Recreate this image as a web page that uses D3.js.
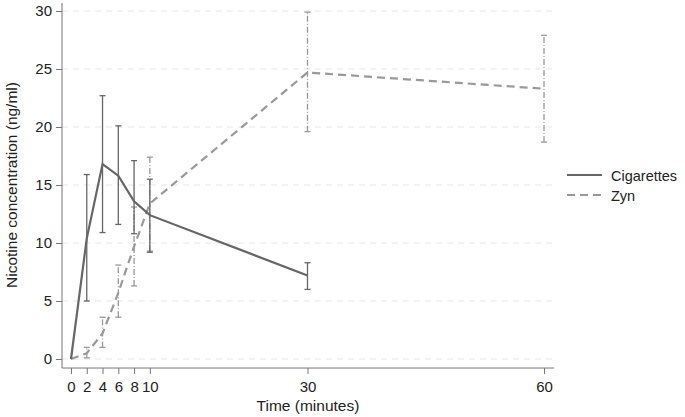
<!DOCTYPE html>
<html lang="en">
<head>
<meta charset="UTF-8">
<script src="https://d3js.org/d3.v7.min.js"></script>
<style>
    body { margin: 0; background: #fff; }
    svg { font-family: "Liberation Sans", Arial, sans-serif; }
    .grid line { stroke: #e6e6e6; stroke-dasharray: 6,5; }
    .axis path, .axis line { stroke: #777; }
    .axis text { fill: #222; font-size: 15px; }
</style>
</head>
<body>
<svg width="685" height="417"></svg>
<script>
    // time points (minutes)
    const xTicks = [0, 2, 4, 6, 8, 10, 30, 60];
    const yTicks = [0, 5, 10, 15, 20, 25, 30];

    // Cigarettes: mean, lower, upper
    const cigTimes = [0, 2, 4, 6, 8, 10, 30];
    const cigMean  = [0, 10.4, 16.8, 15.8, 13.6, 12.4, 7.2];
    const cigLow   = [null, 5.0, 10.9, 11.6, 10.8, 9.2, 6.0];
    const cigHigh  = [null, 15.9, 22.7, 20.1, 17.1, 15.5, 8.3];

    // Zyn: mean, lower, upper
    const zynTimes = [0, 2, 4, 6, 8, 10, 30, 60];
    const zynMean  = [0, 0.5, 2.2, 5.7, 9.7, 13.4, 24.7, 23.3];
    const zynLow   = [null, 0.1, 1.0, 3.6, 6.3, 9.3, 19.6, 18.7];
    const zynHigh  = [null, 1.0, 3.6, 8.1, 13.1, 17.4, 29.9, 27.9];

    const svg = d3.select("svg");
    const x = d3.scaleLinear().domain([0, 60]).range([71, 544]);
    const y = d3.scaleLinear().domain([0, 30]).range([359, 11]);
    const plotLeft = 62, plotRight = 554, plotBottom = 368, plotTop = 3;

    // gridlines
    svg.append("g").attr("class", "grid")
        .selectAll("line").data(yTicks).enter().append("line")
        .attr("x1", plotLeft).attr("x2", plotRight)
        .attr("y1", d => y(d)).attr("y2", d => y(d));

    // axes
    const yAxis = svg.append("g").attr("class", "axis")
        .attr("transform", "translate(" + plotLeft + ",0)")
        .call(d3.axisLeft(y).tickValues(yTicks).tickSize(6).tickPadding(4));
    yAxis.select(".domain").attr("d", "M0," + plotBottom + "V" + plotTop);

    const xAxis = svg.append("g").attr("class", "axis")
        .attr("transform", "translate(0," + plotBottom + ")")
        .call(d3.axisBottom(x).tickValues(xTicks).tickSize(6).tickPadding(7));
    xAxis.select(".domain").attr("d", "M" + plotLeft + ",0H" + plotRight);

    // axis titles
    svg.append("text").attr("x", 308).attr("y", 411)
        .attr("text-anchor", "middle").attr("font-size", 15.5).attr("fill", "#222")
        .text("Time (minutes)");
    svg.append("text")
        .attr("transform", "translate(17,185) rotate(-90)")
        .attr("text-anchor", "middle").attr("font-size", 15.5).attr("fill", "#222")
        .text("Nicotine concentration (ng/ml)");

    function series(ts, mean, low, high, color, dash, errDash) {
        const pts = ts.map((t, i) => ({ t: t, m: mean[i], lo: low[i], hi: high[i] }));
        const err = svg.append("g").attr("stroke", color).attr("stroke-width", 1.3).attr("fill", "none");
        pts.filter(d => d.lo !== null).forEach(d => {
            err.append("line").attr("x1", x(d.t)).attr("x2", x(d.t))
                .attr("y1", y(d.lo)).attr("y2", y(d.hi))
                .attr("stroke-dasharray", errDash);
            [d.lo, d.hi].forEach(v => {
                err.append("line").attr("x1", x(d.t) - 3).attr("x2", x(d.t) + 3)
                    .attr("y1", y(v)).attr("y2", y(v));
            });
        });
        svg.append("path").datum(pts)
            .attr("fill", "none").attr("stroke", color).attr("stroke-width", 2.2)
            .attr("stroke-dasharray", dash)
            .attr("d", d3.line().x(d => x(d.t)).y(d => y(d.m)));
    }

    series(zynTimes, zynMean, zynLow, zynHigh, "#999", "8,5", "6,2,1,2");
    series(cigTimes, cigMean, cigLow, cigHigh, "#666", null, null);

    // legend
    const legend = [
        { name: "Cigarettes", color: "#666", dash: null },
        { name: "Zyn", color: "#999", dash: "8,5" }
    ];
    const lg = svg.append("g");
    legend.forEach((d, i) => {
        const yy = 175 + i * 20;
        lg.append("line").attr("x1", 567).attr("x2", 602).attr("y1", yy).attr("y2", yy)
            .attr("stroke", d.color).attr("stroke-width", 2.2).attr("stroke-dasharray", d.dash);
        lg.append("text").attr("x", 611).attr("y", yy + 5.5).attr("font-size", 14.5)
            .attr("fill", "#222").text(d.name);
    });
</script>
</body>
</html>
